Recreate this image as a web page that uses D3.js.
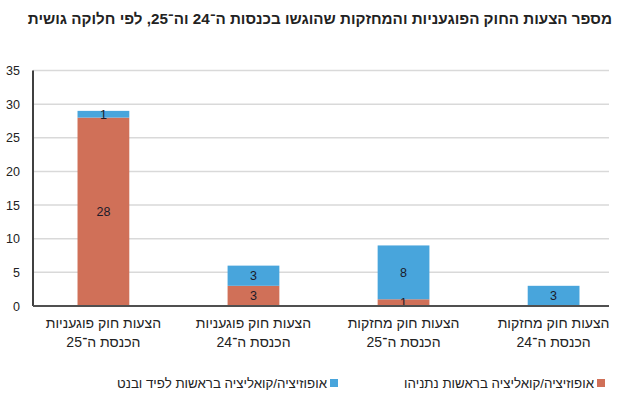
<!DOCTYPE html>
<html lang="he">
<head>
<meta charset="utf-8">
<script src="https://cdn.jsdelivr.net/npm/d3@7"></script>
<style>
  html, body { margin: 0; padding: 0; background: #fff; }
  svg { display: block; font-family: "Liberation Sans", "DejaVu Sans", sans-serif; }
</style>
</head>
<body>
<svg width="628" height="409"></svg>
<script>
// נתונים
const title = "מספר הצעות החוק הפוגעניות והמחזקות שהוגשו בכנסות ה־24 וה־25, לפי חלוקה גושית";
const categories = ["פוגעניות 25", "פוגעניות 24", "מחזקות 25", "מחזקות 24"];
const labelLine1 = ["הצעות חוק פוגעניות", "הצעות חוק פוגעניות", "הצעות חוק מחזקות", "הצעות חוק מחזקות"];
const labelLine2 = ["הכנסת ה־25", "הכנסת ה־24", "הכנסת ה־25", "הכנסת ה־24"];
const seriesNames = ["אופוזיציה/קואליציה בראשות נתניהו", "אופוזיציה/קואליציה בראשות לפיד ובנט"];
const netanyahu = [28, 3, 1, 0];
const lapidBennett = [1, 3, 8, 3];
const yTicks = [0, 5, 10, 15, 20, 25, 30, 35];
const colors = ["#d07058", "#48a5dc"];

const svg = d3.select("svg");

// אזור הגרף
const area = { left: 33, right: 609, top: 70.5, bottom: 306 };

const rows = categories.map((c, i) => ({ cat: c, a: netanyahu[i], b: lapidBennett[i] }));
const stacked = d3.stack().keys(["a", "b"])(rows);

const scX = d3.scaleBand()
    .domain(categories)
    .range([28, 629])
    .paddingInner(0.655)
    .paddingOuter(0.33);

const scY = d3.scaleLinear()
    .domain([0, 35])
    .range([area.bottom, area.top]);

// קווי רשת
svg.append("g")
    .selectAll("line")
    .data(yTicks.filter(t => t > 0))
    .enter()
    .append("line")
    .attr("x1", area.left)
    .attr("x2", area.right)
    .attr("y1", d => scY(d))
    .attr("y2", d => scY(d))
    .style("stroke", "#d9d9d9")
    .style("stroke-width", 1.5);

// ציר Y - תוויות
svg.append("g")
    .selectAll("text")
    .data(yTicks)
    .enter()
    .append("text")
    .attr("x", 20)
    .attr("y", d => scY(d) + 4.5)
    .attr("text-anchor", "end")
    .style("font-size", "12.5px")
    .style("fill", "#222")
    .text(d => d);

// עמודות
const groups = svg.append("g")
    .selectAll("g")
    .data(stacked)
    .enter()
    .append("g")
    .style("fill", (d, i) => colors[i]);

groups.selectAll("rect")
    .data(d => d)
    .enter()
    .append("rect")
    .attr("x", d => scX(d.data.cat))
    .attr("width", scX.bandwidth())
    .attr("y", d => scY(d[1]))
    .attr("height", d => scY(d[0]) - scY(d[1]));

// תוויות ערכים
stacked.forEach(layer => {
    svg.append("g")
        .selectAll("text")
        .data(layer.filter(d => d[1] - d[0] > 0))
        .enter()
        .append("text")
        .attr("x", d => scX(d.data.cat) + scX.bandwidth() / 2)
        .attr("y", d => (scY(d[0]) + scY(d[1])) / 2 + 4.5)
        .attr("text-anchor", "middle")
        .style("font-size", "12.5px")
        .style("fill", "#1b1b2a")
        .text(d => d[1] - d[0]);
});

// צירים
svg.append("line")
    .attr("x1", area.left).attr("x2", area.left)
    .attr("y1", area.top).attr("y2", area.bottom)
    .style("stroke", "#404040").style("stroke-width", 2);
svg.append("line")
    .attr("x1", area.left).attr("x2", area.right)
    .attr("y1", area.bottom).attr("y2", area.bottom)
    .style("stroke", "#505050").style("stroke-width", 2);

// תוויות ציר X
const xl = svg.append("g")
    .selectAll("text")
    .data(categories)
    .enter()
    .append("text")
    .attr("direction", "rtl")
    .attr("text-anchor", "middle")
    .style("font-size", "14px")
    .style("fill", "#222");
xl.append("tspan")
    .attr("x", d => scX(d) + scX.bandwidth() / 2)
    .attr("y", 328)
    .text((d, i) => labelLine1[i]);
xl.append("tspan")
    .attr("x", d => scX(d) + scX.bandwidth() / 2)
    .attr("y", 347)
    .text((d, i) => labelLine2[i]);

// כותרת
svg.append("text")
    .attr("x", 612)
    .attr("y", 24)
    .attr("direction", "rtl")
    .attr("text-anchor", "start")
    .style("font-size", "15.2px")
    .style("font-weight", "bold")
    .style("fill", "#222")
    .text(title);

// מקרא
const legendX = [605, 338];
const legend = svg.append("g")
    .selectAll("g")
    .data(seriesNames)
    .enter()
    .append("g");
legend.append("rect")
    .attr("x", (d, i) => legendX[i] - 8)
    .attr("y", 379)
    .attr("width", 8)
    .attr("height", 8)
    .style("fill", (d, i) => colors[i]);
legend.append("text")
    .attr("x", (d, i) => legendX[i] - 11)
    .attr("y", 388)
    .attr("direction", "rtl")
    .attr("text-anchor", "start")
    .style("font-size", "13.3px")
    .style("fill", "#222")
    .text(d => d);
</script>
</body>
</html>
